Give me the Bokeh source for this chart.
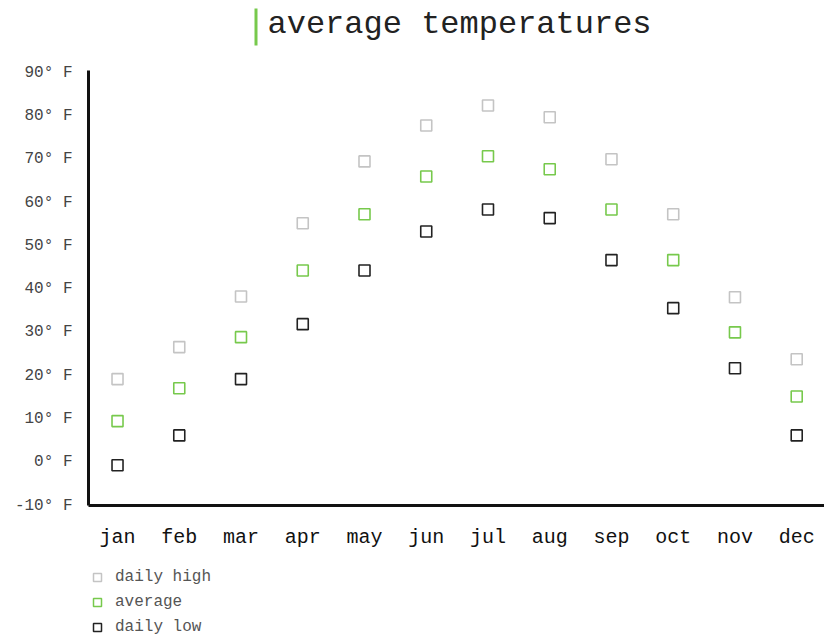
from bokeh.plotting import figure
from bokeh.models import (FixedTicker, Legend, LegendItem, ColumnDataSource,
                          Range1d)
from bokeh.layouts import column
from bokeh.core.properties import value
from bokeh.embed import file_html
from bokeh.resources import INLINE

months = ["jan", "feb", "mar", "apr", "may", "jun",
          "jul", "aug", "sep", "oct", "nov", "dec"]
daily_high = [19.2, 26.6, 38.3, 55.2, 69.5, 77.8, 82.4, 79.7, 70.0, 57.3, 38.1, 23.8]
average = [9.5, 17.1, 28.9, 44.3, 57.3, 66.0, 70.7, 67.7, 58.4, 46.7, 30.0, 15.2]
daily_low = [-0.7, 6.2, 19.2, 31.9, 44.3, 53.3, 58.4, 56.4, 46.7, 35.6, 21.7, 6.2]
y_ticks = [-10, 0, 10, 20, 30, 40, 50, 60, 70, 80, 90]
y_labels = [f"{t}\u00b0 F" for t in y_ticks]
series_names = ["daily high", "average", "daily low"]
series_colors = ["#c4c4c4", "#77c94c", "#222222"]
title_text = "average temperatures"

FONT = "Liberation Mono"
W = 824
LEFT = 88
idx = list(range(len(months)))

# ---------- title strip (screen-like coordinates) ----------
TH = 56
t = figure(width=W, height=TH, output_backend="svg", toolbar_location=None,
           x_range=Range1d(LEFT, W), y_range=Range1d(TH, 0),
           x_axis_location=None, y_axis_location=None,
           min_border_left=LEFT, min_border_right=0, min_border_top=0,
           min_border_bottom=0)
t.outline_line_color = None
t.grid.visible = False
t.quad(left=[254], right=[257], top=[8], bottom=[45], fill_color="#77c94c",
       line_color=None)
t.text(x=[267], y=[24], text=[title_text], text_font=value(FONT),
       text_font_size="32px", text_color="#222222", text_baseline="middle",
       text_align="left")

# ---------- main chart ----------
p = figure(width=W, height=496, output_backend="svg", toolbar_location=None,
           x_range=Range1d(-0.47, 11.45), y_range=Range1d(-10, 90.5),
           min_border_left=LEFT, min_border_right=0, min_border_top=14,
           min_border_bottom=47)
p.outline_line_color = None
p.grid.visible = False

src = ColumnDataSource(dict(x=idx, high=daily_high, avg=average, low=daily_low))
for col, colr in zip(["high", "avg", "low"], series_colors):
    p.scatter("x", col, source=src, marker="square", size=11,
              fill_color=None, line_color=colr, line_width=1.6)

ya = p.yaxis[0]
ya.ticker = FixedTicker(ticks=y_ticks)
ya.major_label_overrides = {tk: lb for tk, lb in zip(y_ticks, y_labels)}
ya.major_label_text_font = FONT
ya.major_label_text_font_size = "16px"
ya.major_label_text_color = "#444444"
ya.major_tick_in = 0
ya.major_tick_out = 0
ya.minor_tick_in = 0
ya.minor_tick_out = 0
ya.axis_line_width = 3
ya.axis_line_color = "#111111"
ya.major_label_standoff = 16

xa = p.xaxis[0]
xa.ticker = FixedTicker(ticks=idx)
xa.major_label_overrides = {i: m for i, m in zip(idx, months)}
xa.major_label_text_font = FONT
xa.major_label_text_font_size = "20px"
xa.major_label_text_color = "#111111"
xa.major_tick_in = 0
xa.major_tick_out = 0
xa.minor_tick_in = 0
xa.minor_tick_out = 0
xa.axis_line_width = 3
xa.axis_line_color = "#111111"
xa.major_label_standoff = 20

# ---------- legend strip ----------
LH = 639 - TH - 496
lg = figure(width=W, height=LH, output_backend="svg", toolbar_location=None,
            x_range=Range1d(0, 1), y_range=Range1d(0, 1),
            x_axis_location=None, y_axis_location=None,
            min_border_left=LEFT, min_border_right=0, min_border_top=0,
            min_border_bottom=0)
lg.outline_line_color = None
lg.grid.visible = False
items = []
nan = float("nan")
for name, colr in zip(series_names, series_colors):
    r = lg.scatter(x=[nan], y=[nan], marker="square", size=11, fill_color=None,
                   line_color=colr, line_width=1.5)
    items.append(LegendItem(label=name, renderers=[r]))
legend = Legend(items=items, location=(-1, 2), orientation="vertical",
                border_line_color=None, background_fill_alpha=0,
                padding=0, margin=0, spacing=5,
                label_text_font=FONT, label_text_font_size="16px",
                label_text_color="#555555", label_height=20,
                glyph_height=20, glyph_width=20, label_standoff=8)
lg.add_layout(legend)

layout = column(t, p, lg, spacing=0)
open("out.html", "w").write(file_html(layout, INLINE))
